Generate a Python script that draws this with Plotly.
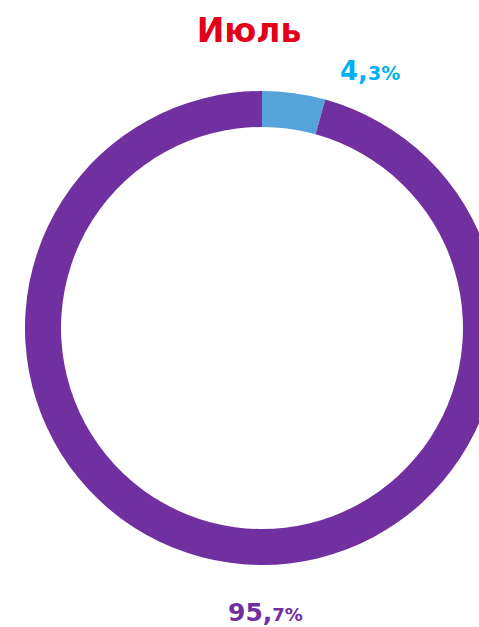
import plotly.graph_objects as go

# Data
title_text = "Июль"
categories = ["Доля A", "Доля B"]
shares = [4.3, 95.7]
slice_colors = ["#56A3DB", "#7030A0"]
label_colors = ["#00B0F0", "#7030A0"]

W, H = 500, 627


def fmt(v, big, small):
    s = f"{v:.1f}".split(".")
    return f"<span style='font-size:{big}px'>{s[0]},</span><span style='font-size:{small}px'>{s[1]}%</span>"


fig = go.Figure()
fig.add_trace(go.Pie(
    labels=categories,
    values=shares,
    hole=0.848,
    sort=False,
    direction="clockwise",
    rotation=0,
    marker=dict(colors=slice_colors, line=dict(width=0)),
    textinfo="none",
    hoverinfo="label+percent",
    showlegend=False,
    domain=dict(x=[25 / W, 499 / W], y=[62 / H, 536 / H]),
))

# label positions (pixel centers)
label_pos = [(370, 71), (265, 612)]
label_sizes = [(26, 19), (25, 18)]
for v, c, (px, py), (b, s) in zip(shares, label_colors, label_pos, label_sizes):
    fig.add_annotation(
        x=px / W, y=1 - py / H, xref="paper", yref="paper",
        xanchor="center", yanchor="middle", showarrow=False,
        text=f"<b>{fmt(v, b, s)}</b>",
        font=dict(family="DejaVu Sans", size=b, color=c),
    )

fig.update_layout(
    width=W, height=H,
    margin=dict(l=0, r=0, t=0, b=0),
    paper_bgcolor="white",
    plot_bgcolor="white",
    title=dict(
        text=f"<b>{title_text}</b>",
        x=249 / W, xanchor="center",
        y=1 - 30 / H, yanchor="middle",
        font=dict(family="DejaVu Sans", size=33, color="#E2001A"),
    ),
)

fig.write_html(
    "out.html",
    config={"displayModeBar": False},
    post_script="document.body.style.margin='0';document.body.style.overflow='hidden';document.documentElement.style.overflow='hidden';",
)
